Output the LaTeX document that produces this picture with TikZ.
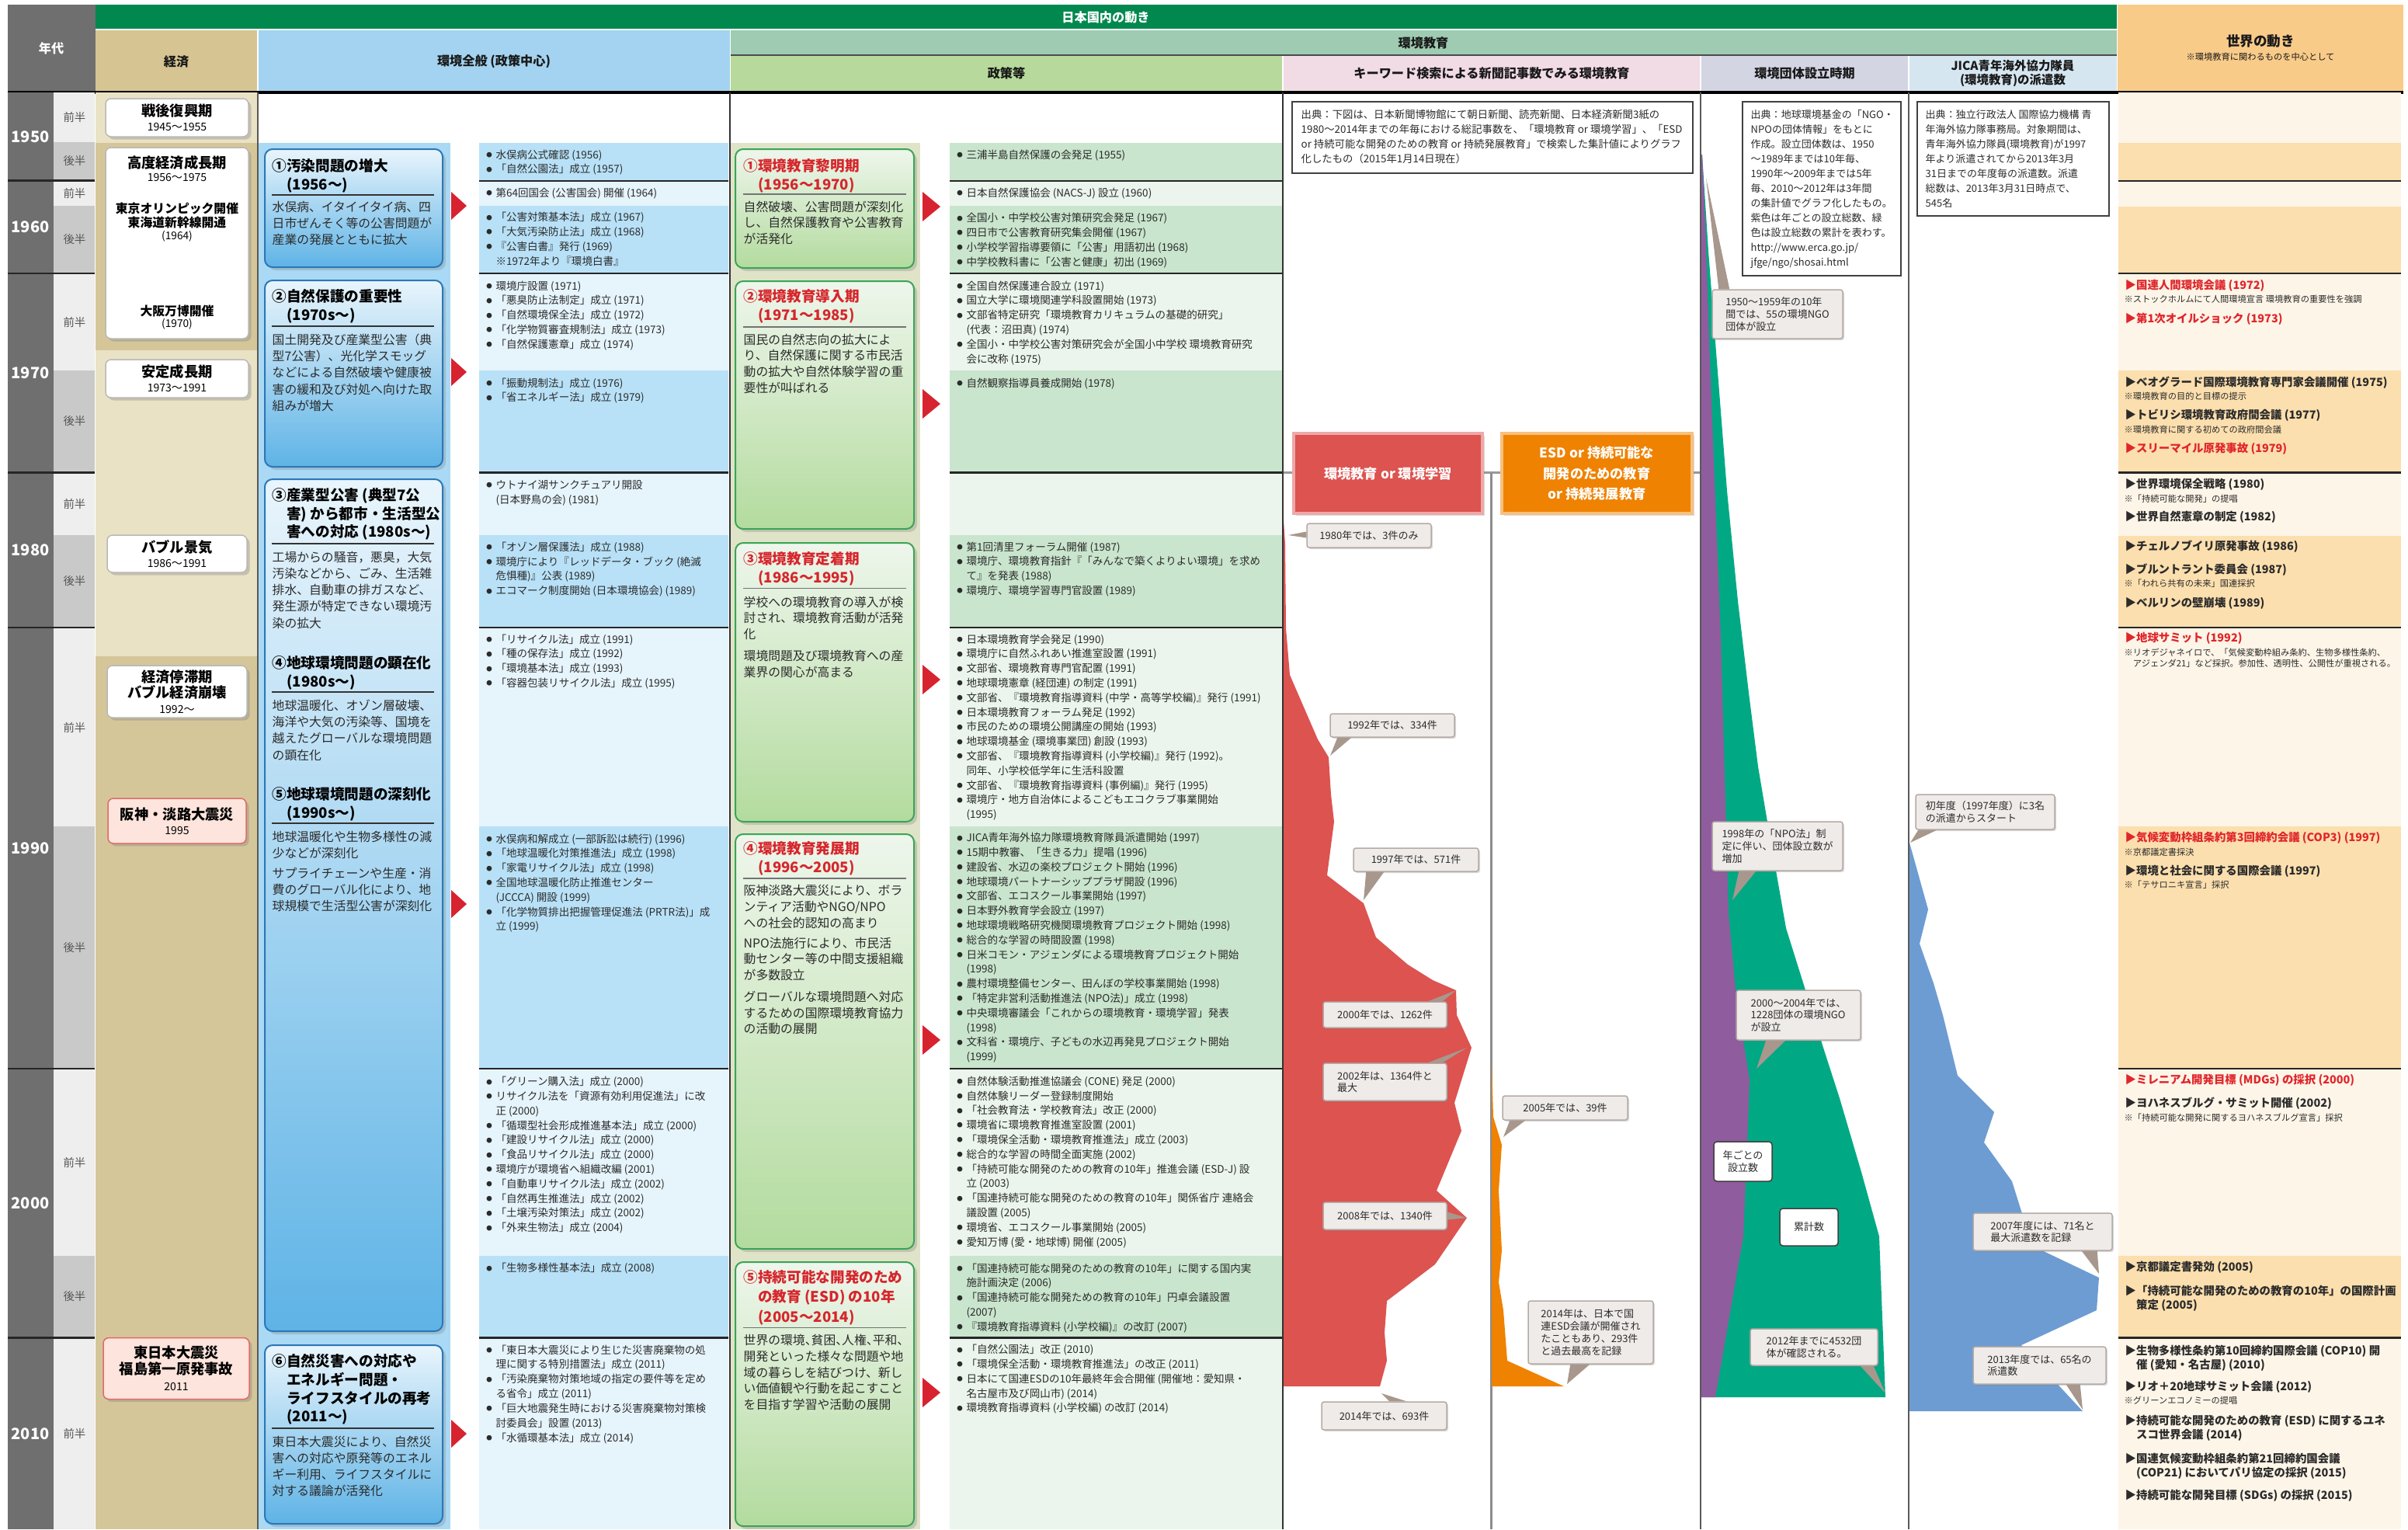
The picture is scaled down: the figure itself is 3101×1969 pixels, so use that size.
\documentclass[tikz,border=0pt]{standalone}
\usepackage{fontspec}
\usepackage{graphicx}
\setmainfont{Noto Sans CJK JP}
\usetikzlibrary{positioning,shadows}

\definecolor{nendaiGray}{HTML}{6F6F6F}
\definecolor{hanLight}{HTML}{EEEEEE}
\definecolor{hanDark}{HTML}{C9C9C9}
\definecolor{hanTxt}{HTML}{555555}
\definecolor{hdrGreen}{HTML}{00884F}
\definecolor{hdrEco}{HTML}{D6C592}
\definecolor{hdrEnv}{HTML}{A3D3F0}
\definecolor{hdrEdu}{HTML}{9ECBB2}
\definecolor{hdrPol}{HTML}{B7D99B}
\definecolor{hdrKey}{HTML}{F1DBE4}
\definecolor{hdrOrg}{HTML}{D3D5E3}
\definecolor{hdrJica}{HTML}{D6E6F1}
\definecolor{hdrWorld}{HTML}{F9CB89}
\definecolor{ecoLight}{HTML}{EAE2C5}
\definecolor{ecoDark}{HTML}{D5C69A}
\definecolor{ecoLine}{HTML}{B8B8B8}
\definecolor{sinsaiFill}{HTML}{FDE4DC}
\definecolor{sinsaiLine}{HTML}{E06A6A}
\definecolor{envBg}{HTML}{A9D9F4}
\definecolor{envLine}{HTML}{2D77B6}
\definecolor{envTop}{HTML}{E9F5FC}
\definecolor{envBot}{HTML}{5EB3E6}
\definecolor{envBand}{HTML}{B8E1F7}
\definecolor{envLite}{HTML}{E6F4FC}
\definecolor{eduBg}{HTML}{DFE4C9}
\definecolor{eduLine}{HTML}{3BA556}
\definecolor{eduTop}{HTML}{EEF6EC}
\definecolor{eduBot}{HTML}{B3DB9E}
\definecolor{eduTitle}{HTML}{D6262C}
\definecolor{polBand}{HTML}{C9E5CD}
\definecolor{polLite}{HTML}{EBF5ED}
\definecolor{triRed}{HTML}{D7232F}
\definecolor{chRed}{HTML}{DC5350}
\definecolor{chOrange}{HTML}{EF8200}
\definecolor{chPurple}{HTML}{8F5C9D}
\definecolor{chTeal}{HTML}{00A984}
\definecolor{chBlue}{HTML}{6D9CD2}
\definecolor{callFill}{HTML}{EFEBE9}
\definecolor{callLine}{HTML}{B4AAA5}
\definecolor{ptrFill}{HTML}{A8978C}
\definecolor{wLite}{HTML}{FDF5E8}
\definecolor{wTan}{HTML}{FCDFAE}
\definecolor{wRed}{HTML}{E0262B}
\definecolor{txtDark}{HTML}{2B2B2B}

\newcommand{\bul}{\makebox[0.95em][l]{\hspace{0.05em}\raisebox{0.12em}{\scalebox{0.55}{●}}}}
\newcommand{\ind}{\hspace*{0.95em}}
\newcommand{\ten}{\makebox[0.5em][l]{、}}
\newcommand{\ecoT}[1]{{\fontsize{5.2pt}{6pt}\selectfont\bfseries #1}}
\newcommand{\ecoY}[1]{{\fontsize{4pt}{5pt}\selectfont #1}}

\tikzset{
  nen/.style={font=\fontsize{5.7pt}{6pt}\selectfont\bfseries, text=white, inner sep=0},
  han/.style={font=\fontsize{4.1pt}{5pt}\selectfont, text=hanTxt, inner sep=0},
  hdr/.style={font=\fontsize{4.6pt}{5.1pt}\selectfont\bfseries, align=center, inner sep=0, text=black!90},
  rowline/.style={line width=0.22mm, black!85},
  colline/.style={line width=0.25mm, black!65},
  ecobox/.style={draw=ecoLine, line width=0.15mm, fill=white, rounded corners=0.7mm, align=center, inner sep=0, font=\fontsize{4pt}{5.4pt}\selectfont, drop shadow={shadow xshift=0.35mm, shadow yshift=-0.35mm, opacity=0.35}},
  sinsai/.style={ecobox, draw=sinsaiLine, fill=sinsaiFill},
  ecosub/.style={font=\fontsize{4.5pt}{5.4pt}\selectfont\bfseries, align=center, inner sep=0},
  ecoyear/.style={font=\fontsize{3.9pt}{5pt}\selectfont, inner sep=0},
  envbox/.style={draw=envLine, line width=0.2mm, rounded corners=1mm, top color=envTop, bottom color=envBot, drop shadow={shadow xshift=0.4mm, shadow yshift=-0.4mm, opacity=0.3}},
  edubox/.style={draw=eduLine, line width=0.2mm, rounded corners=1mm, top color=eduTop, bottom color=eduBot, drop shadow={shadow xshift=0.4mm, shadow yshift=-0.4mm, opacity=0.3}},
  bxhead/.style={anchor=north west, inner sep=0, align=left, font=\fontsize{5.3pt}{6.75pt}\selectfont\bfseries},
  bxtext/.style={anchor=north west, inner sep=0, align=left, font=\fontsize{4.5pt}{6.05pt}\selectfont, text=txtDark},
  bxrule/.style={line width=0.15mm, black!80},
  redtri/.style={fill=triRed},
  lst/.style={anchor=north west, inner sep=0, align=left, font=\fontsize{3.85pt}{5.35pt}\selectfont, text=txtDark},
  src/.style={anchor=north west, inner sep=0, align=left, font=\fontsize{3.7pt}{5.4pt}\selectfont, text=txtDark},
  srcframe/.style={draw=black!75, fill=white, line width=0.15mm, inner sep=0},
  kwbox/.style={line width=0.45mm, inner sep=0, align=center, text=white, font=\fontsize{4.9pt}{7.5pt}\selectfont\bfseries, drop shadow={shadow xshift=0.3mm, shadow yshift=-0.3mm, opacity=0.3}},
  call/.style={draw=callLine, fill=callFill, line width=0.15mm, rounded corners=0.3mm, inner sep=0, align=left, text=txtDark, font=\fontsize{3.7pt}{4.5pt}\selectfont, drop shadow={shadow xshift=0.2mm, shadow yshift=-0.2mm, opacity=0.3}},
  ptr/.style={fill=ptrFill},
  lab/.style={draw=black!75, fill=white, line width=0.15mm, rounded corners=0.4mm, inner sep=0, align=center, text=txtDark, font=\fontsize{3.7pt}{4.5pt}\selectfont},
  wit/.style={anchor=west, inner sep=0, align=left, font=\fontsize{4.1pt}{5.1pt}\selectfont\bfseries, text=txtDark},
  witred/.style={wit, text=wRed},
  wnote/.style={anchor=west, inner sep=0, align=left, font=\fontsize{3.2pt}{4pt}\selectfont, text=txtDark}
}

\begin{document}
\begin{tikzpicture}[x=0.1mm, y=-0.1mm]
\useasboundingbox (0,0) rectangle (3101,1969);

% header
\fill[nendaiGray] (10,6) rectangle (123,118);
\node[hdr, text=white] (hNen) at (66,62) {年代};
\fill[hdrGreen] (123,6) rectangle (2726,37);
\node[hdr, text=white] (hJapan) at (1424,22) {日本国内の動き};
\fill[hdrEco] (123,39) rectangle (331,117);
\node[hdr] (hEco) at (227,79) {経済};
\fill[hdrEnv] (333,39) rectangle (940,117);
\node[hdr] (hEnv) at (636,79) {環境全般 (政策中心)};
\fill[hdrEdu] (941,39) rectangle (2726,70);
\node[hdr] (hEdu) at (1833,55) {環境教育};
\draw[line width=0.25mm, black!70] (941,71) -- (2726,71);
\fill[hdrPol] (941,72) rectangle (1651,117);
\node[hdr] (hPol) at (1296,94) {政策等};
\fill[hdrKey] (1653,72) rectangle (2189,117);
\node[hdr] (hKey) at (1921,94) {キーワード検索による新聞記事数でみる環境教育};
\fill[hdrOrg] (2191,72) rectangle (2457,117);
\node[hdr] (hOrg) at (2324,94) {環境団体設立時期};
\fill[hdrJica] (2459,72) rectangle (2726,117);
\node[hdr, font=\fontsize{4.4pt}{5.1pt}\selectfont\bfseries] (hJica) at (2592,94) {JICA青年海外協力隊員\\(環境教育)の派遣数};
\fill[hdrWorld] (2727,6) rectangle (3095,117);
\node[hdr, font=\fontsize{5pt}{6pt}\selectfont\bfseries] (hWorld) at (2911,53) {世界の動き};
\node[hdr, font=\fontsize{3.2pt}{4pt}\selectfont] (hWorldNote) at (2911,73) {※環境教育に関わるものを中心として};
\draw[line width=0.4mm] (10,118.5) -- (3095,118.5);

% nendai
\fill[nendaiGray] (10,119) rectangle (69,1969);
\foreach \a/\b in {119/183,233/265,352/477,609/689,809/1064,1376/1617,1723/1969}
  \fill[hanLight] (69,\a) rectangle (122,\b);
\foreach \a/\b in {183/232,265/352,477/608,689/808,1064/1376,1617/1722}
  \fill[hanDark] (69,\a) rectangle (122,\b);
\foreach \y in {232.5,352,608.5,808,1376,1722.5}
  \draw[rowline] (10,\y) -- (122,\y);
\foreach \y/\t in {176/1950,292/1960,480/1970,708/1980,1092/1990,1549/2000,1846/2010}
  \node[nen] (n\t) at (39,\y) {\t};
\foreach \y/\t [count=\i] in {151/前半,207.5/後半,249/前半,308.5/後半,414.5/前半,542.5/後半,649/前半,748.5/後半,936.5/前半,1220/後半,1496.5/前半,1669.5/後半,1846/前半}
  \node[han] (half\i) at (96,\y) {\t};

% backgrounds
\fill[ecoLight] (123,119) rectangle (331,184);
\fill[ecoDark] (123,184) rectangle (331,451);
\fill[ecoLight] (123,451) rectangle (331,845);
\fill[ecoDark] (123,845) rectangle (331,1969);
\fill[envBg] (333,184) rectangle (580,1969);
\foreach \a/\b in {184/233,265/352,477/608.5,689/808,1064/1376,1617/1722.5}
  \fill[envBand] (617,\a) rectangle (938,\b);
\foreach \a/\b in {233/265,352/477,608.5/689,808/1064,1376/1617,1722.5/1969}
  \fill[envLite] (617,\a) rectangle (938,\b);
\foreach \y in {233,352,608.5,808,1376,1722.5}
  \draw[rowline] (617,\y) -- (938,\y);
\fill[eduBg] (941,184) rectangle (1185,1969);
\foreach \a/\b in {184/233,265/352,477/608.5,689/808,1064/1376,1617/1722.5}
  \fill[polBand] (1223,\a) rectangle (1651,\b);
\foreach \a/\b in {233/265,352/477,608.5/689,808/1064,1376/1617,1722.5/1969}
  \fill[polLite] (1223,\a) rectangle (1651,\b);
\foreach \y in {233,352,608.5,808,1376,1722.5}
  \draw[rowline] (1223,\y) -- (1651,\y);
\foreach \a/\b in {119/184,233/266,352/477,608.5/690,808/1064,1376/1617,1722.5/1969}
  \fill[wLite] (2728,\a) rectangle (3092,\b);
\foreach \a/\b in {184/233,266/352,477/608.5,690/808,1064/1376,1617/1722.5}
  \fill[wTan] (2728,\a) rectangle (3092,\b);
\foreach \y in {233,352,608.5,808,1376,1722.5}
  \draw[rowline] (2728,\y) -- (3092,\y);

% charts
\draw[line width=0.25mm, black!40] (1652,608.5) -- (2190,608.5);
\draw[line width=0.3mm, black!45] (1920,608.5) -- (1920,1969);
\fill[chRed] (1652,655) -- (1655,700) -- (1656,809) -- (1661,869) -- (1697,952) -- (1711,975) -- (1714,1023) -- (1718,1058) -- (1709,1127) -- (1756,1163) -- (1772,1207) -- (1813,1242) -- (1845,1262) -- (1875,1275) -- (1876,1307) -- (1895,1349) -- (1873,1420) -- (1882,1456) -- (1850,1533) -- (1889,1568) -- (1848,1628) -- (1786,1675) -- (1783,1716) -- (1786,1752) -- (1777,1785) -- (1652,1785) -- cycle;
\fill[chOrange] (1921,1367) -- (1923,1438) -- (1934,1474) -- (1930,1533) -- (1934,1610) -- (1930,1651) -- (1936,1687) -- (1941,1752) -- (2014,1785) -- (1921,1785) -- cycle;
\fill[chTeal] (2190,199) -- (2192,199) -- (2200,323) -- (2211,466) -- (2224,632) -- (2238,774) -- (2252,892) -- (2264,987) -- (2276,1058) -- (2300,1195) -- (2326,1278) -- (2348,1349) -- (2369,1414) -- (2397,1509) -- (2420,1592) -- (2428,1799) -- (2190,1799) -- cycle;
\fill[chPurple] (2190,199) -- (2192,199) -- (2196,288) -- (2202,466) -- (2209,644) -- (2216,821) -- (2221,999) -- (2226,1177) -- (2236,1284) -- (2253,1390) -- (2250,1473) -- (2245,1592) -- (2209,1799) -- (2190,1799) -- cycle;
\fill[chBlue] (2458,1085) -- (2459,1085) -- (2483,1171) -- (2472,1215) -- (2490,1266) -- (2502,1307) -- (2521,1385) -- (2568,1432) -- (2555,1471) -- (2591,1521) -- (2617,1604) -- (2703,1645) -- (2700,1687) -- (2603,1732) -- (2682,1817) -- (2458,1817) -- cycle;

% column lines
\draw[colline] (332,119) -- (332,1969);
\draw[colline, black!80] (940,119) -- (940,1969);
\draw[colline, black!80] (1652,119) -- (1652,1969);
\draw[colline] (2190,119) -- (2190,1969);
\draw[colline] (2458,119) -- (2458,1969);

% economy
\node[ecobox, minimum width=18.4mm, minimum height=4.9mm] (sengo) at (228,151.5) {\ecoT{戦後復興期}\\\ecoY{1945～1955}};
\node[ecobox, minimum width=18.4mm, minimum height=24.6mm] (kodo) at (228,313) {};
\node[ecosub, font=\fontsize{5.2pt}{6pt}\selectfont\bfseries] (kodoT) at (228,210) {高度経済成長期};
\node[ecoyear, font=\fontsize{4pt}{5pt}\selectfont] (kodoY) at (228,228) {1956～1975};
\node[ecosub] (olympic) at (228,277.5) {東京オリンピック開催\\東海道新幹線開通};
\node[ecoyear] (olympicY) at (228,304) {(1964)};
\node[ecosub] (banpaku) at (228,400) {大阪万博開催};
\node[ecoyear] (banpakuY) at (228,417) {(1970)};
\node[ecobox, minimum width=18.4mm, minimum height=4.9mm] (antei) at (228,487.5) {\ecoT{安定成長期}\\\ecoY{1973～1991}};
\node[ecobox, minimum width=18mm, minimum height=4.8mm] (bubble) at (228,713) {\ecoT{バブル景気}\\\ecoY{1986～1991}};
\node[ecobox, minimum width=18mm, minimum height=6.7mm, font=\fontsize{4pt}{5.7pt}\selectfont] (teitai) at (228,890.5) {\ecoT{経済停滞期}\\\ecoT{バブル経済崩壊}\\\ecoY{1992～}};
\node[sinsai, minimum width=17.8mm, minimum height=5.8mm] (hanshin) at (228,1057) {\ecoT{阪神・淡路大震災}\\\ecoY{1995}};
\node[sinsai, minimum width=18.8mm, minimum height=7.9mm, font=\fontsize{4pt}{6pt}\selectfont] (higashi) at (227,1762) {\ecoT{東日本大震災}\\\ecoT{福島第一原発事故}\\\ecoY{2011}};

% environment (policy)
\node[envbox, minimum width=22.9mm, minimum height=15.2mm] (env1) at (455.5,268) {};
\node[bxhead] (env1T) at (350,203.7) {①汚染問題の増大\\\phantom{①}(1956～)};
\draw[bxrule] (350,251) -- (559,251);
\node[bxtext] (env1B) at (350,258) {水俣病、イタイイタイ病、四\\日市ぜんそく等の公害問題が\\産業の発展とともに拡大};
\node[envbox, minimum width=22.9mm, minimum height=24mm] (env2) at (455.5,481) {};
\node[bxhead] (env2T) at (350,371.7) {②自然保護の重要性\\\phantom{②}(1970s～)};
\draw[bxrule] (350,420) -- (559,420);
\node[bxtext] (env2B) at (350,429) {国土開発及び産業型公害（典\\型7公害）、光化学スモッグ\\などによる自然破壊や健康被\\害の緩和及び対処へ向けた取\\組みが増大};
\node[envbox, minimum width=22.9mm, minimum height=109.7mm] (env3) at (455.5,1165.5) {};
\node[bxhead] (env3T) at (350,627.7) {③産業型公害 (典型7公\\\phantom{③}害) から都市・生活型公\\\phantom{③}害への対応 (1980s～)};
\draw[bxrule] (350,700) -- (559,700);
\node[bxtext] (env3B) at (350,709) {工場からの騒音，悪臭，大気\\汚染などから、ごみ、生活雑\\排水、自動車の排ガスなど、\\発生源が特定できない環境汚\\染の拡大};
\node[bxhead] (env4T) at (350,843.7) {④地球環境問題の顕在化\\\phantom{④}(1980s～)};
\draw[bxrule] (350,891) -- (559,891);
\node[bxtext] (env4B) at (350,900) {地球温暖化、オゾン層破壊、\\海洋や大気の汚染等、国境を\\越えたグローバルな環境問題\\の顕在化};
\node[bxhead] (env5T) at (350,1012.7) {⑤地球環境問題の深刻化\\\phantom{⑤}(1990s～)};
\draw[bxrule] (350,1060) -- (559,1060);
\node[bxtext] (env5B) at (350,1069) {地球温暖化や生物多様性の減\\少などが深刻化\\[0.45mm]サプライチェーンや生産・消\\費のグローバル化により、地\\球規模で生活型公害が深刻化};
\node[envbox, minimum width=22.9mm, minimum height=23mm] (env6) at (455.5,1847) {};
\node[bxhead] (env6T) at (350,1742.7) {⑥自然災害への対応や\\\phantom{⑥}エネルギー問題・\\\phantom{⑥}ライフスタイルの再考\\\phantom{⑥}(2011～)};
\draw[bxrule] (350,1839) -- (559,1839);
\node[bxtext] (env6B) at (350,1848) {東日本大震災により、自然災\\害への対応や原発等のエネル\\ギー利用、ライフスタイルに\\対する議論が活発化};
\foreach \y in {265,479,1164,1846}
  \fill[redtri] (581,\y-18) -- (601,\y) -- (581,\y+18) -- cycle;

\node[lst] (envL1) at (625,192) {\bul 水俣病公式確認 (1956)\\\bul 「自然公園法」成立 (1957)};
\node[lst] (envL2) at (625,241) {\bul 第64回国会 (公害国会) 開催 (1964)};
\node[lst] (envL3) at (625,272.5) {\bul 「公害対策基本法」成立 (1967)\\\bul 「大気汚染防止法」成立 (1968)\\\bul 『公害白書』発行 (1969)\\\ind ※1972年より『環境白書』};
\node[lst] (envL4) at (625,361) {\bul 環境庁設置 (1971)\\\bul 「悪臭防止法制定」成立 (1971)\\\bul 「自然環境保全法」成立 (1972)\\\bul 「化学物質審査規制法」成立 (1973)\\\bul 「自然保護憲章」成立 (1974)};
\node[lst] (envL5) at (625,486) {\bul 「振動規制法」成立 (1976)\\\bul 「省エネルギー法」成立 (1979)};
\node[lst] (envL6) at (625,617.5) {\bul ウトナイ湖サンクチュアリ開設\\\ind (日本野鳥の会) (1981)};
\node[lst] (envL7) at (625,697) {\bul 「オゾン層保護法」成立 (1988)\\\bul 環境庁により『レッドデータ・ブック (絶滅\\\ind 危惧種)』公表 (1989)\\\bul エコマーク制度開始 (日本環境協会) (1989)};
\node[lst] (envL8) at (625,816) {\bul 「リサイクル法」成立 (1991)\\\bul 「種の保存法」成立 (1992)\\\bul 「環境基本法」成立 (1993)\\\bul 「容器包装リサイクル法」成立 (1995)};
\node[lst] (envL9) at (625,1073) {\bul 水俣病和解成立 (一部訴訟は続行) (1996)\\\bul 「地球温暖化対策推進法」成立 (1998)\\\bul 「家電リサイクル法」成立 (1998)\\\bul 全国地球温暖化防止推進センター\\\ind (JCCCA) 開設 (1999)\\\bul 「化学物質排出把握管理促進法 (PRTR法)」成\\\ind 立 (1999)};
\node[lst] (envL10) at (625,1385.5) {\bul 「グリーン購入法」成立 (2000)\\\bul リサイクル法を「資源有効利用促進法」に改\\\ind 正 (2000)\\\bul 「循環型社会形成推進基本法」成立 (2000)\\\bul 「建設リサイクル法」成立 (2000)\\\bul 「食品リサイクル法」成立 (2000)\\\bul 環境庁が環境省へ組織改編 (2001)\\\bul 「自動車リサイクル法」成立 (2002)\\\bul 「自然再生推進法」成立 (2002)\\\bul 「土壌汚染対策法」成立 (2002)\\\bul 「外来生物法」成立 (2004)};
\node[lst] (envL11) at (625,1625.5) {\bul 「生物多様性基本法」成立 (2008)};
\node[lst] (envL12) at (625,1731) {\bul 「東日本大震災により生じた災害廃棄物の処\\\ind 理に関する特別措置法」成立 (2011)\\\bul 「汚染廃棄物対策地域の指定の要件等を定め\\\ind る省令」成立 (2011)\\\bul 「巨大地震発生時における災害廃棄物対策検\\\ind 討委員会」設置 (2013)\\\bul 「水循環基本法」成立 (2014)};

% environmental education (policy)
\node[edubox, minimum width=23mm, minimum height=15.3mm] (edu1) at (1062,268.5) {};
\node[bxhead, text=eduTitle] (edu1T) at (957,203.7) {①環境教育黎明期\\\phantom{①}(1956～1970)};
\draw[bxrule, black!55] (957,250) -- (1167,250);
\node[bxtext, font=\fontsize{4.5pt}{5.9pt}\selectfont] (edu1B) at (957,258) {自然破壊、公害問題が深刻化\\し、自然保護教育や公害教育\\が活発化};
\node[edubox, minimum width=23mm, minimum height=31.9mm] (edu2) at (1062,521.5) {};
\node[bxhead, text=eduTitle] (edu2T) at (957,372.2) {②環境教育導入期\\\phantom{②}(1971～1985)};
\draw[bxrule, black!55] (957,421) -- (1167,421);
\node[bxtext, font=\fontsize{4.5pt}{5.9pt}\selectfont] (edu2B) at (957,429) {国民の自然志向の拡大によ\\り、自然保護に関する市民活\\動の拡大や自然体験学習の重\\要性が叫ばれる};
\node[edubox, minimum width=23mm, minimum height=35.9mm] (edu3) at (1062,878.5) {};
\node[bxhead, text=eduTitle] (edu3T) at (957,710.2) {③環境教育定着期\\\phantom{③}(1986～1995)};
\draw[bxrule, black!55] (957,757.6) -- (1167,757.6);
\node[bxtext, font=\fontsize{4.5pt}{5.9pt}\selectfont] (edu3B) at (957,767) {学校への環境教育の導入が検\\討され、環境教育活動が活発\\化\\[0.75mm]環境問題及び環境教育への産\\業界の関心が高まる};
\node[edubox, minimum width=23mm, minimum height=53.4mm] (edu4) at (1062,1341) {};
\node[bxhead, text=eduTitle] (edu4T) at (957,1082.7) {④環境教育発展期\\\phantom{④}(1996～2005)};
\draw[bxrule, black!55] (957,1131) -- (1167,1131);
\node[bxtext, font=\fontsize{4.5pt}{5.9pt}\selectfont] (edu4B) at (957,1138.5) {阪神淡路大震災により、ボラ\\ンティア活動やNGO/NPO\\への社会的認知の高まり\\[0.55mm]NPO法施行により、市民活\\動センター等の中間支援組織\\が多数設立\\[0.7mm]グローバルな環境問題へ対応\\するための国際環境教育協力\\の活動の展開};
\node[edubox, minimum width=23mm, minimum height=34mm] (edu5) at (1062,1795) {};
\node[bxhead, text=eduTitle] (edu5T) at (957,1634.3) {⑤持続可能な開発のため\\[0.2mm]\phantom{⑤}の教育 (ESD) の10年\\[0.2mm]\phantom{⑤}(2005～2014)};
\draw[bxrule, black!55] (957,1709.5) -- (1167,1709.5);
\node[bxtext, font=\fontsize{4.5pt}{5.9pt}\selectfont] (edu5B) at (957,1717.6) {世界の環境\ten 貧困\ten 人権\ten 平和\ten\\開発といった様々な問題や地\\域の暮らしを結びつけ、新し\\い価値観や行動を起こすこと\\を目指す学習や活動の展開};
\foreach \y in {266,520,875,1339,1793}
  \fill[redtri] (1188,\y-19) -- (1211,\y) -- (1188,\y+19) -- cycle;

\node[lst] (polL1) at (1231,192) {\bul 三浦半島自然保護の会発足 (1955)};
\node[lst] (polL2) at (1231,241) {\bul 日本自然保護協会 (NACS-J) 設立 (1960)};
\node[lst] (polL3) at (1231,273.5) {\bul 全国小・中学校公害対策研究会発足 (1967)\\\bul 四日市で公害教育研究集会開催 (1967)\\\bul 小学校学習指導要領に「公害」用語初出 (1968)\\\bul 中学校教科書に「公害と健康」初出 (1969)};
\node[lst] (polL4) at (1231,361) {\bul 全国自然保護連合設立 (1971)\\\bul 国立大学に環境関連学科設置開始 (1973)\\\bul 文部省特定研究「環境教育カリキュラムの基礎的研究」\\\ind (代表：沼田真) (1974)\\\bul 全国小・中学校公害対策研究会が全国小中学校 環境教育研究\\\ind 会に改称 (1975)};
\node[lst] (polL5) at (1231,486) {\bul 自然観察指導員養成開始 (1978)};
\node[lst] (polL6) at (1231,697) {\bul 第1回清里フォーラム開催 (1987)\\\bul 環境庁、環境教育指針『「みんなで築くよりよい環境」を求め\\\ind て』を発表 (1988)\\\bul 環境庁、環境学習専門官設置 (1989)};
\node[lst] (polL7) at (1231,816) {\bul 日本環境教育学会発足 (1990)\\\bul 環境庁に自然ふれあい推進室設置 (1991)\\\bul 文部省、環境教育専門官配置 (1991)\\\bul 地球環境憲章 (経団連) の制定 (1991)\\\bul 文部省、『環境教育指導資料 (中学・高等学校編)』発行 (1991)\\\bul 日本環境教育フォーラム発足 (1992)\\\bul 市民のための環境公開講座の開始 (1993)\\\bul 地球環境基金 (環境事業団) 創設 (1993)\\\bul 文部省、『環境教育指導資料 (小学校編)』発行 (1992)。\\\ind 同年、小学校低学年に生活科設置\\\bul 文部省、『環境教育指導資料 (事例編)』発行 (1995)\\\bul 環境庁・地方自治体によるこどもエコクラブ事業開始\\\ind (1995)};
\node[lst] (polL8) at (1231,1071.6) {\bul JICA青年海外協力隊環境教育隊員派遣開始 (1997)\\\bul 15期中教審、「生きる力」提唱 (1996)\\\bul 建設省、水辺の楽校プロジェクト開始 (1996)\\\bul 地球環境パートナーシッププラザ開設 (1996)\\\bul 文部省、エコスクール事業開始 (1997)\\\bul 日本野外教育学会設立 (1997)\\\bul 地球環境戦略研究機関環境教育プロジェクト開始 (1998)\\\bul 総合的な学習の時間設置 (1998)\\\bul 日米コモン・アジェンダによる環境教育プロジェクト開始\\\ind (1998)\\\bul 農村環境整備センター、田んぼの学校事業開始 (1998)\\\bul 「特定非営利活動推進法 (NPO法)」成立 (1998)\\\bul 中央環境審議会「これからの環境教育・環境学習」発表\\\ind (1998)\\\bul 文科省・環境庁、子どもの水辺再発見プロジェクト開始\\\ind (1999)};
\node[lst] (polL9) at (1231,1385) {\bul 自然体験活動推進協議会 (CONE) 発足 (2000)\\\bul 自然体験リーダー登録制度開始\\\bul 「社会教育法・学校教育法」改正 (2000)\\\bul 環境省に環境教育推進室設置 (2001)\\\bul 「環境保全活動・環境教育推進法」成立 (2003)\\\bul 総合的な学習の時間全面実施 (2002)\\\bul 「持続可能な開発のための教育の10年」推進会議 (ESD-J) 設\\\ind 立 (2003)\\\bul 「国連持続可能な開発のための教育の10年」関係省庁 連絡会\\\ind 議設置 (2005)\\\bul 環境省、エコスクール事業開始 (2005)\\\bul 愛知万博 (愛・地球博) 開催 (2005)};
\node[lst] (polL10) at (1231,1626) {\bul 「国連持続可能な開発のための教育の10年」に関する国内実\\\ind 施計画決定 (2006)\\\bul 「国連持続可能な開発ための教育の10年」円卓会議設置\\\ind (2007)\\\bul 『環境教育指導資料 (小学校編)』の改訂 (2007)};
\node[lst] (polL11) at (1231,1730.5) {\bul 「自然公園法」改正 (2010)\\\bul 「環境保全活動・環境教育推進法」の改正 (2011)\\\bul 日本にて国連ESDの10年最終年会合開催 (開催地：愛知県・\\\ind 名古屋市及び岡山市) (2014)\\\bul 環境教育指導資料 (小学校編) の改訂 (2014)};

% keyword chart
\node[srcframe, minimum width=51.6mm, minimum height=9.2mm] (srcKey) at (1922,177) {};
\node[src, font=\fontsize{3.8pt}{5.35pt}\selectfont] (srcKeyT) at (1675,141) {出典：下図は、日本新聞博物館にて朝日新聞、読売新聞、日本経済新聞3紙の\\1980～2014年までの年毎における総記事数を、「環境教育 or 環境学習」、「ESD\\or 持続可能な開発のための教育 or 持続発展教育」で検索した集計値によりグラフ\\化したもの（2015年1月14日現在）};
\node[kwbox, fill=chRed, draw=chRed!50!white, minimum width=24.3mm, minimum height=10.3mm] (kwEdu) at (1787.5,609.5) {環境教育 or 環境学習};
\node[kwbox, fill=chOrange, draw=chOrange!50!white, minimum width=24.5mm, minimum height=10.3mm] (kwEsd) at (2056.5,609.5) {ESD or 持続可能な\\開発のための教育\\or 持続発展教育};

\node[call, minimum width=16mm, minimum height=3.1mm] (k1) at (1763,689.5) {1980年では、3件のみ};
\coordinate (k1tip) at (1659,689);
\fill[ptr] ([yshift=0.5mm]k1.west) -- (k1tip) -- ([yshift=-0.3mm]k1.west) -- cycle;
\node[call, minimum width=16mm, minimum height=3mm] (k2) at (1793,934) {1992年では、334件};
\coordinate (k2tip) at (1713,973);
\fill[ptr] ([xshift=1mm]k2.south west) -- (k2tip) -- ([xshift=2.8mm]k2.south west) -- cycle;
\node[call, minimum width=16.1mm, minimum height=3mm] (k3) at (1823.5,1107) {1997年では、571件};
\coordinate (k3tip) at (1756,1159);
\fill[ptr] ([xshift=1.7mm]k3.south west) -- (k3tip) -- ([xshift=4mm]k3.south west) -- cycle;
\node[call, minimum width=15.9mm, minimum height=3.3mm] (k4) at (1783.5,1306.5) {2000年では、1262件};
\coordinate (k4tip) at (1875,1275);
\fill[ptr] ([xshift=-2.5mm]k4.north east) -- (k4tip) -- ([xshift=-0.6mm]k4.north east) -- cycle;
\node[call, minimum width=15.9mm, minimum height=4.8mm] (k5) at (1783.5,1393) {2002年は、1364件と\\最大};
\coordinate (k5tip) at (1889,1349);
\fill[ptr] ([xshift=-2.5mm]k5.north east) -- (k5tip) -- ([xshift=-0.6mm]k5.north east) -- cycle;
\node[call, minimum width=15.9mm, minimum height=3.5mm] (k6) at (1783.5,1565.5) {2008年では、1340件};
\coordinate (k6tip) at (1889,1568);
\fill[ptr] ([yshift=0.5mm]k6.east) -- (k6tip) -- ([yshift=-0.5mm]k6.east) -- cycle;
\node[call, minimum width=16.1mm, minimum height=3.6mm] (k7) at (1782.5,1823) {2014年では、693件};
\coordinate (k7tip) at (1779,1794);
\fill[ptr] ([xshift=8.8mm]k7.north west) -- (k7tip) -- ([xshift=11mm]k7.north west) -- cycle;
\node[call, minimum width=16.1mm, minimum height=3.1mm] (k8) at (2015.5,1426.5) {2005年では、39件};
\coordinate (k8tip) at (1936,1464);
\fill[ptr] ([xshift=1mm]k8.south west) -- (k8tip) -- ([xshift=3mm]k8.south west) -- cycle;
\node[call, minimum width=16.1mm, minimum height=8.1mm] (k9) at (2048.5,1715.5) {2014年は、日本で国\\連ESD会議が開催され\\たこともあり、293件\\と過去最高を記録};
\coordinate (k9tip) at (2018,1782);
\fill[ptr] ([xshift=5.5mm]k9.south west) -- (k9tip) -- ([xshift=8mm]k9.south west) -- cycle;

% NGO chart
\node[srcframe, minimum width=20.4mm, minimum height=22.4mm] (srcOrg) at (2346,243) {};
\node[src] (srcOrgT) at (2254,141) {出典：地球環境基金の「NGO・\\NPOの団体情報」をもとに\\作成。設立団体数は、1950\\～1989年までは10年毎、\\1990年～2009年までは5年\\毎、2010～2012年は3年間\\の集計値でグラフ化したもの。\\紫色は年ごとの設立総数、緑\\色は設立総数の累計を表わす。\\http://www.erca.go.jp/\\jfge/ngo/shosai.html};
\node[call, minimum width=16.8mm, minimum height=6.3mm] (d1) at (2289,404.5) {1950～1959年の10年\\間では、55の環境NGO\\団体が設立};
\coordinate (d1tip) at (2197,229);
\fill[ptr] ([xshift=0.9mm]d1.north west) -- (d1tip) -- ([xshift=2.3mm]d1.north west) -- cycle;
\node[call, minimum width=16.8mm, minimum height=6.3mm] (d2) at (2289,1089.5) {1998年の「NPO法」制\\定に伴い、団体設立数が\\増加};
\coordinate (d2tip) at (2231,1159);
\fill[ptr] ([xshift=3.5mm]d2.south west) -- (d2tip) -- ([xshift=5.7mm]d2.south west) -- cycle;
\node[call, minimum width=16mm, minimum height=6.4mm] (d3) at (2316,1307) {2000～2004年では、\\1228団体の環境NGO\\が設立};
\coordinate (d3tip) at (2262,1376);
\fill[ptr] ([xshift=3.9mm]d3.south west) -- (d3tip) -- ([xshift=6.4mm]d3.south west) -- cycle;
\node[lab, minimum width=7.5mm, minimum height=5.1mm] (labYear) at (2244.5,1495.5) {年ごとの\\設立数};
\node[lab, minimum width=7.5mm, minimum height=4.8mm] (labSum) at (2329.5,1580) {累計数};
\node[call, minimum width=16.4mm, minimum height=4.7mm] (d4) at (2336,1734.5) {2012年までに4532団\\体が確認される。};
\coordinate (d4tip) at (2428,1794);
\fill[ptr] ([xshift=-2.3mm]d4.south east) -- (d4tip) -- ([xshift=-0.6mm]d4.south east) -- cycle;

% JICA chart
\node[srcframe, minimum width=24.7mm, minimum height=14.7mm] (srcJica) at (2592.5,204.5) {};
\node[src] (srcJicaT) at (2479,141) {出典：独立行政法人 国際協力機構 青\\年海外協力隊事務局。対象期間は、\\青年海外協力隊員(環境教育)が1997\\年より派遣されてから2013年3月\\31日までの年度毎の派遣数。派遣\\総数は、2013年3月31日時点で、\\545名};
\node[call, minimum width=17.9mm, minimum height=4.5mm] (j1) at (2556.5,1045.5) {初年度（1997年度）に3名\\の派遣からスタート};
\coordinate (j1tip) at (2460,1085);
\fill[ptr] ([xshift=0.4mm]j1.south west) -- (j1tip) -- ([xshift=2.8mm]j1.south west) -- cycle;
\node[call, minimum width=17.9mm, minimum height=4.8mm] (j2) at (2630.5,1586) {2007年度には、71名と\\最大派遣数を記録};
\coordinate (j2tip) at (2703,1640);
\fill[ptr] ([xshift=-4mm]j2.south east) -- (j2tip) -- ([xshift=-2mm]j2.south east) -- cycle;
\node[call, minimum width=17.1mm, minimum height=4.8mm] (j3) at (2626.5,1758) {2013年度では、65名の\\派遣数};
\coordinate (j3tip) at (2682,1815);
\fill[ptr] ([xshift=-5.2mm]j3.south east) -- (j3tip) -- ([xshift=-3.4mm]j3.south east) -- cycle;

% world
\node[witred] (w1) at (2736,368) {▶国連人間環境会議 (1972)};
\node[wnote] (w1n) at (2735,385) {※ストックホルムにて人間環境宣言 環境教育の重要性を強調};
\node[witred] (w2) at (2736,411) {▶第1次オイルショック (1973)};
\node[wit] (w3) at (2736,493) {▶ベオグラード国際環境教育専門家会議開催 (1975)};
\node[wnote] (w3n) at (2735,510) {※環境教育の目的と目標の提示};
\node[wit] (w4) at (2736,535) {▶トビリシ環境教育政府間会議 (1977)};
\node[wnote] (w4n) at (2735,553) {※環境教育に関する初めての政府間会議};
\node[witred] (w5) at (2736,578) {▶スリーマイル原発事故 (1979)};
\node[wit] (w6) at (2736,624) {▶世界環境保全戦略 (1980)};
\node[wnote] (w6n) at (2735,642) {※「持続可能な開発」の提唱};
\node[wit] (w7) at (2736,666) {▶世界自然憲章の制定 (1982)};
\node[wit] (w8) at (2736,704) {▶チェルノブイリ原発事故 (1986)};
\node[wit] (w9) at (2736,734) {▶ブルントラント委員会 (1987)};
\node[wnote] (w9n) at (2735,751) {※「われら共有の未来」国連採択};
\node[wit] (w10) at (2736,777) {▶ベルリンの壁崩壊 (1989)};
\node[witred] (w11) at (2736,822) {▶地球サミット (1992)};
\node[wnote, anchor=north west] (w11n) at (2735,834.4) {※リオデジャネイロで、「気候変動枠組み条約、生物多様性条約、\\\hspace*{1em}アジェンダ21」など採択。参加性、透明性、公開性が重視される。};
\node[witred] (w12) at (2736,1079) {▶気候変動枠組条約第3回締約会議 (COP3) (1997)};
\node[wnote] (w12n) at (2735,1097) {※京都議定書採決};
\node[wit] (w13) at (2736,1122) {▶環境と社会に関する国際会議 (1997)};
\node[wnote] (w13n) at (2735,1139) {※「テサロニキ宣言」採択};
\node[witred] (w14) at (2736,1391) {▶ミレニアム開発目標 (MDGs) の採択 (2000)};
\node[wit] (w15) at (2736,1421) {▶ヨハネスブルグ・サミット開催 (2002)};
\node[wnote] (w15n) at (2735,1439) {※「持続可能な開発に関するヨハネスブルグ宣言」採択};
\node[wit] (w16) at (2736,1632) {▶京都議定書発効 (2005)};
\node[wit, anchor=north west] (w17) at (2736,1654.5) {▶「持続可能な開発のための教育の10年」の国際計画\\\hspace*{1em}策定 (2005)};
\node[wit, anchor=north west] (w18) at (2736,1731.5) {▶生物多様性条約第10回締約国際会議 (COP10) 開\\\hspace*{1em}催 (愛知・名古屋) (2010)};
\node[wit] (w19) at (2736,1786) {▶リオ＋20地球サミット会議 (2012)};
\node[wnote] (w19n) at (2735,1803) {※グリーンエコノミーの提唱};
\node[wit, anchor=north west] (w20) at (2736,1821.5) {▶持続可能な開発のための教育 (ESD) に関するユネ\\\hspace*{1em}スコ世界会議 (2014)};
\node[wit, anchor=north west] (w21) at (2736,1870.5) {▶国連気候変動枠組条約第21回締約国会議\\\hspace*{1em}(COP21) においてパリ協定の採択 (2015)};
\node[wit] (w22) at (2736,1926) {▶持続可能な開発目標 (SDGs) の採択 (2015)};
\end{tikzpicture}
\end{document}
